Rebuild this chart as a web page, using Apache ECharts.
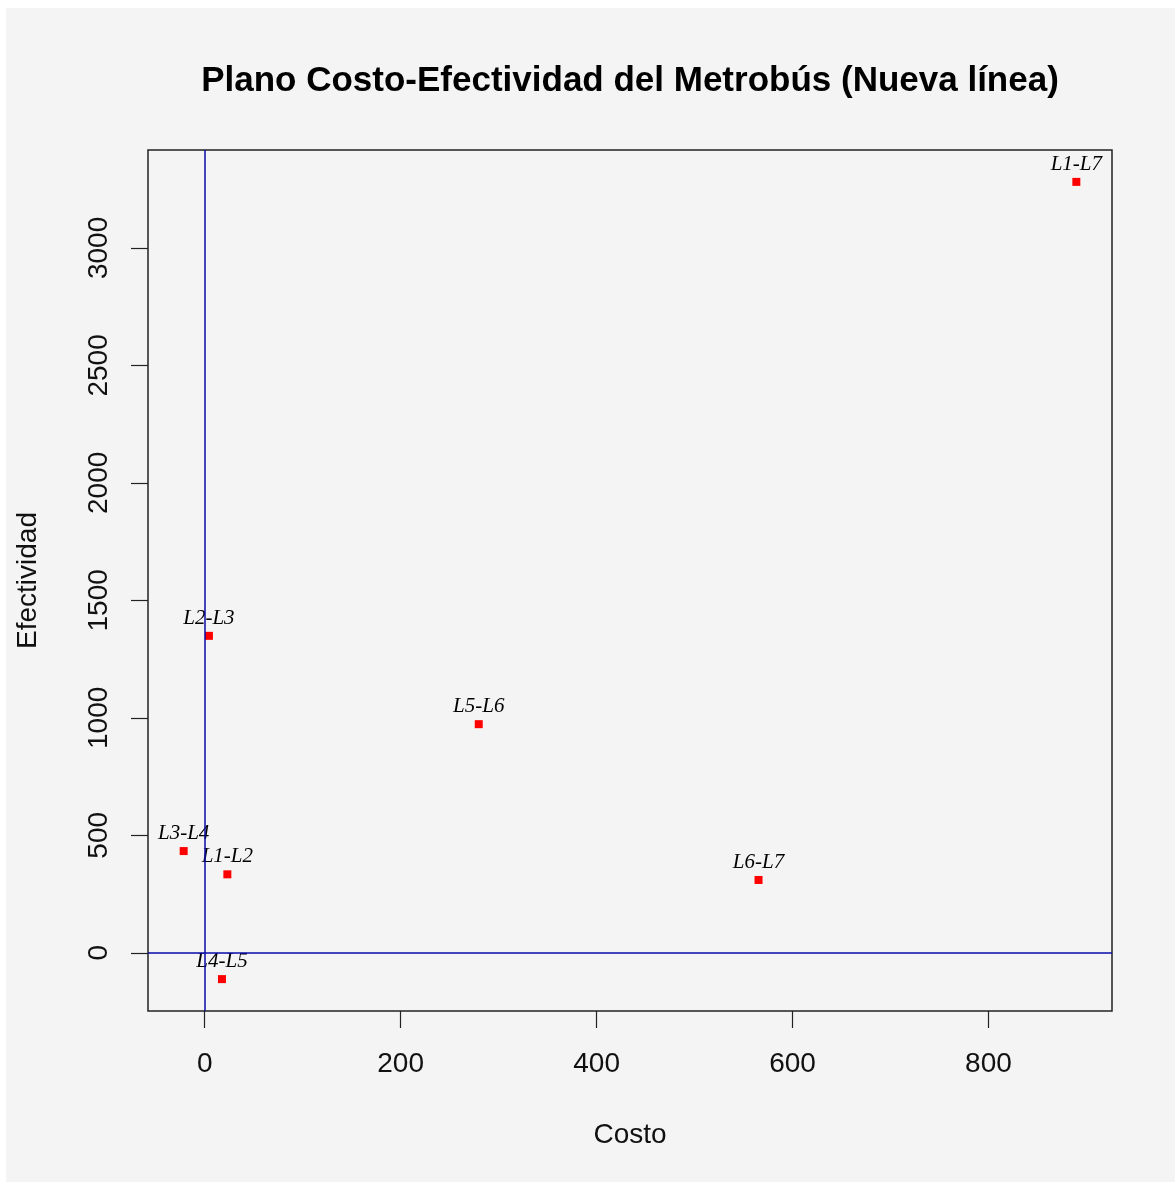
<!DOCTYPE html>
<html>
<head>
<meta charset="utf-8">
<script src="https://cdn.jsdelivr.net/npm/echarts@6/dist/echarts.min.js"></script>
<style>html,body{margin:0;padding:0;background:#fff;}#c{width:1175px;height:1182px;}</style>
</head>
<body>
<div id="c"></div>
<script>
const labels = ['L1-L7','L2-L3','L5-L6','L3-L4','L1-L2','L6-L7','L4-L5'];
const costo = [889.7, 4.3, 279.7, -21.5, 23.1, 565.3, 17.6];
const efectividad = [3281, 1349, 973, 433, 334, 310, -112];
const xTicks = [0, 200, 400, 600, 800];
const yTicks = [0, 500, 1000, 1500, 2000, 2500, 3000];
const xRange = [-57.9, 926.1];
const yRange = [-247.7, 3416.7];

const chart = echarts.init(document.getElementById('c'));
const pts = costo.map((c, i) => ({ value: [c, efectividad[i]], name: labels[i] }));
chart.setOption({
  animation: false,
  backgroundColor: '#ffffff',
  graphic: [{ type: 'rect', z: -10, shape: { x: 6, y: 8, width: 1169, height: 1174 }, style: { fill: '#f4f4f4' } }],
  title: {
    text: 'Plano Costo-Efectividad del Metrobús (Nueva línea)',
    left: 625, top: 59, textAlign: 'center',
    textStyle: { fontFamily: 'Liberation Sans', fontWeight: 'bold', fontSize: 35, color: '#000' }
  },
  grid: { left: 148, right: 63, top: 150, bottom: 171, show: true, borderColor: '#222', borderWidth: 1.5, backgroundColor: 'transparent' },
  xAxis: {
    type: 'value', min: xRange[0], max: xRange[1],
    name: 'Costo', nameLocation: 'middle', nameGap: 110,
    nameTextStyle: { fontFamily: 'Liberation Sans', fontSize: 28, color: '#111' },
    axisLine: { show: false, onZero: false },
    splitLine: { show: false },
    axisTick: { show: true, customValues: xTicks, length: 17, inside: false, lineStyle: { color: '#222', width: 1.2 } },
    axisLabel: { customValues: xTicks, margin: 39, formatter: v => String(v), fontFamily: 'Liberation Sans', fontSize: 28, color: '#111' }
  },
  yAxis: {
    type: 'value', min: yRange[0], max: yRange[1],
    name: 'Efectividad', nameLocation: 'middle', nameGap: 106, nameRotate: 90,
    nameTextStyle: { fontFamily: 'Liberation Sans', fontSize: 28, color: '#111' },
    axisLine: { show: false, onZero: false },
    splitLine: { show: false },
    axisTick: { show: true, customValues: yTicks, length: 17, inside: false, lineStyle: { color: '#222', width: 1.2 } },
    axisLabel: { customValues: yTicks, rotate: 90, margin: 35, formatter: v => String(v), fontFamily: 'Liberation Sans', fontSize: 28, color: '#111' }
  },
  series: [{
    type: 'scatter',
    data: pts,
    symbol: 'rect', symbolSize: 8,
    itemStyle: { color: '#ff0000', opacity: 1 },
    label: {
      show: true, position: 'top', distance: 3,
      formatter: p => p.name,
      fontFamily: 'Liberation Serif', fontStyle: 'italic', fontSize: 21, color: '#000', opacity: 1
    },
    markLine: {
      silent: true, symbol: 'none', animation: false,
      label: { show: false },
      lineStyle: { color: '#0a0aa8', width: 1.5, type: 'solid', opacity: 1 },
      data: [{ xAxis: 0 }, { yAxis: 0 }]
    },
    z: 3
  }]
});
</script>
</body>
</html>
